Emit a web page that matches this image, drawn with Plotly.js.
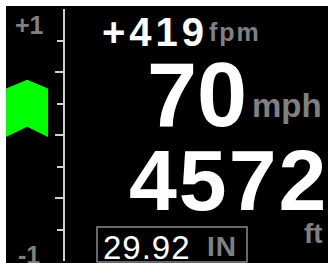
<!DOCTYPE html>
<html>
<head>
<meta charset="utf-8">
<script src="https://cdn.plot.ly/plotly-3.0.1.min.js"></script>
<style>
  html, body { margin: 0; padding: 0; background: #ffffff; }
  #chart { position: absolute; left: 6px; top: 6px; width: 322px; height: 257px; }
</style>
</head>
<body>
<div id="chart"></div>
<script>
// ---- data ----
const verticalSpeedFpm = 419;
const verticalSpeedUnit = 'fpm';
const airspeed = 70;
const airspeedUnit = 'mph';
const altitude = 4572;
const altitudeUnit = 'ft';
const baroSetting = '29.92';
const baroUnit = 'IN';
const scaleRange = [-1, 1];             // thousands of fpm
const majorTicks = [-1, -0.5, 0, 0.5, 1];
const minorTicks = [-0.75, -0.25, 0.25, 0.75];
const scaleLabels = ['+1', '-1'];

// ---- layout helpers (page pixels -> paper coords) ----
const W = 322, OX = 6, OY = 6, PT = 3, PH = 252;
const px = x => (x - OX) / W;
const py = y => (PT + PH - (y - OY)) / PH;
const GRAY = '#808080';
const TICK = '#d0d0d0';
const FONT = 'Liberation Sans, Arial, sans-serif';

const v = verticalSpeedFpm / 1000;
const chevron = {
  type: 'scatter', mode: 'lines', fill: 'toself',
  x: [0, 0.37, 0.737, 0.737, 0.37, 0],
  y: [v - 0.05, v + 0.02, v - 0.05, -0.015, 0.065, -0.015],
  line: { width: 0, color: '#00ff00' },
  fillcolor: '#00ff00', hoverinfo: 'skip', showlegend: false
};

function ann(text, x, y, size, color, bold, spacing) {
  const t = spacing ? '<span style="letter-spacing:' + spacing + 'px">' + text + '</span>' : text;
  return {
    xref: 'paper', yref: 'paper', x: px(x), y: py(y),
    xanchor: 'left', yanchor: 'top', showarrow: false, text: t,
    font: { family: FONT, size: size, color: color, weight: bold ? 'bold' : 'normal' }
  };
}

const annotations = [
  ann((verticalSpeedFpm >= 0 ? '+' : '') + verticalSpeedFpm, 100, 8.4, 40, '#ffffff', true, 4),
  ann(verticalSpeedUnit, 207, 16.4, 25, GRAY, true, 2),
  ann(String(airspeed), 145.4, 43.5, 90, '#ffffff', true, 0),
  ann(airspeedUnit, 250, 85, 33, GRAY, true, 0),
  ann(String(altitude), 127, 130, 86, '#ffffff', true, 2),
  ann(altitudeUnit, 301.5, 215.7, 28, GRAY, true, 0),
  ann(baroSetting, 100.7, 226.8, 33, '#ffffff', false, 1),
  ann(baroUnit, 205, 228.7, 28, GRAY, true, 1),
  ann(scaleLabels[0], 13, 9.3, 25, GRAY, true, 0),
  ann(scaleLabels[1], 15.8, 239.3, 25, GRAY, true, 0)
];

const layout = {
  width: 322, height: 257,
  margin: { l: 0, r: 0, t: PT, b: 257 - PT - PH, pad: 0 },
  paper_bgcolor: '#000000', plot_bgcolor: '#000000',
  showlegend: false,
  xaxis: { domain: [0, 57 / W], range: [0, 1], visible: false, fixedrange: true },
  yaxis: {
    range: scaleRange, side: 'right', showline: true, linecolor: TICK, linewidth: 2,
    ticks: 'inside', tickvals: majorTicks, ticklen: 8, tickwidth: 2, tickcolor: TICK,
    minor: { tickvals: minorTicks, ticks: 'inside', ticklen: 6, tickwidth: 2, tickcolor: TICK },
    showgrid: false, zeroline: false, showticklabels: false, fixedrange: true
  },
  annotations: annotations,
  shapes: [{
    type: 'rect', xref: 'paper', yref: 'paper',
    x0: px(97), x1: px(247), y0: py(227), y1: py(262),
    line: { color: '#8a8a8a', width: 1.5 }, fillcolor: 'rgba(0,0,0,0)'
  }]
};

Plotly.newPlot('chart', [chevron], layout, { displayModeBar: false, staticPlot: true });
</script>
</body>
</html>
